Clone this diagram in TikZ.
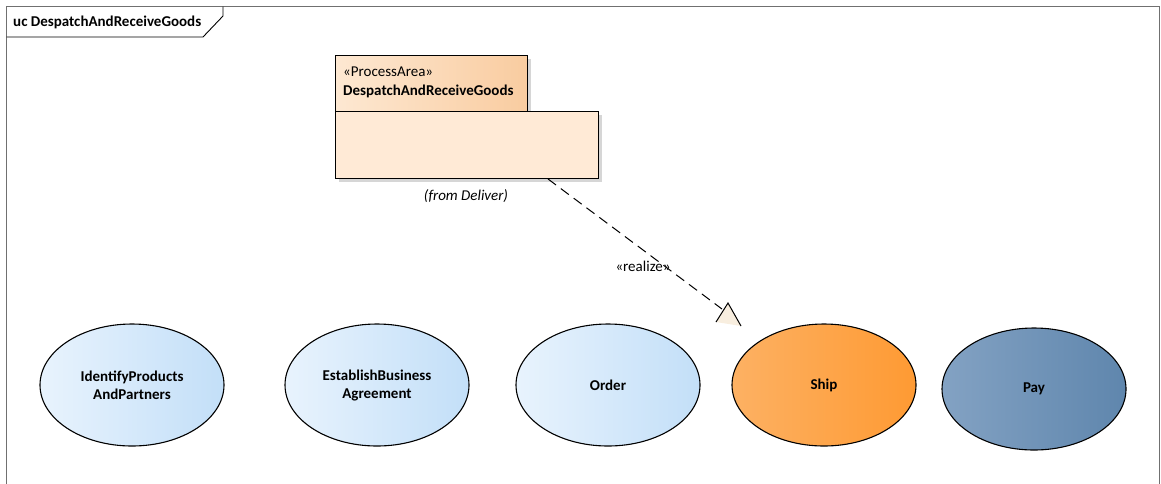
\documentclass[tikz,border=0pt]{standalone}
\usepackage{fontspec}
\setmainfont{Carlito}
\usetikzlibrary{shapes.geometric}
\definecolor{framecol}{HTML}{707070}
\definecolor{pkgtabL}{HTML}{FDE8D2}
\definecolor{pkgtabR}{HTML}{F9CCA0}
\definecolor{pkgbody}{HTML}{FFEAD6}
\definecolor{shadowcol}{HTML}{D6D6D6}
\definecolor{blueL}{HTML}{E8F3FD}
\definecolor{blueR}{HTML}{C3DFF8}
\definecolor{shipL}{HTML}{FDB163}
\definecolor{shipR}{HTML}{FE9A33}
\definecolor{payL}{HTML}{83A2C3}
\definecolor{payR}{HTML}{5F86AD}
\definecolor{cream}{HTML}{F8EEDF}
\tikzset{
  uc/.style={ellipse, draw=black, line width=1.1pt, inner sep=0pt,
    minimum width=184pt, minimum height=122pt, align=center,
    font=\fontsize{15}{18}\selectfont\bfseries},
  bluecase/.style={uc, left color=blueL, right color=blueR},
  shipcase/.style={uc, left color=shipL, right color=shipR},
  paycase/.style={uc, left color=payL, right color=payR},
  pkgshadow/.style={fill=shadowcol, draw=none},
  realline/.style={dashed, dash pattern=on 10pt off 6pt, line width=1pt},
  txt/.style={inner sep=0pt, font=\fontsize{15}{18}\selectfont}
}
\begin{document}
\begin{tikzpicture}[x=1pt,y=-1pt]
\useasboundingbox (0,0) rectangle (1161,483);
% frame
\draw[framecol, line width=1pt] (6.5,490) -- (6.5,6.5) -- (1159.5,6.5) -- (1159.5,490);
\draw[black, line width=0.9pt] (6.5,37) -- (203,37) -- (223,16) -- (223,6.5);
\node[txt, font=\fontsize{15}{18}\selectfont\bfseries, anchor=west] (title) at (13,22) {uc DespatchAndReceiveGoods};
% package
\fill[pkgshadow] (339,59) rectangle (531,115);
\fill[pkgshadow] (339,115) rectangle (602,182);
\node[draw=black, line width=1pt, left color=pkgtabL, right color=pkgtabR, minimum width=192pt, minimum height=56pt, inner sep=0pt, anchor=north west] (pkgtab) at (335,55) {};
\node[draw=black, line width=1pt, fill=pkgbody, minimum width=263pt, minimum height=67pt, inner sep=0pt, anchor=north west] (pkgbox) at (335,111) {};
\node[txt, anchor=west] (stereo) at (343,72) {«ProcessArea»};
\node[txt, anchor=west, font=\fontsize{15}{18}\selectfont\bfseries] (pkgname) at (343,91) {DespatchAndReceiveGoods};
\node[txt, font=\fontsize{15}{18}\selectfont\itshape] (from) at (466,196) {(from Deliver)};
% use cases
\node[bluecase] (idp) at (132,385) {IdentifyProducts\\AndPartners};
\node[bluecase] (eba) at (377,385) {EstablishBusiness\\Agreement};
\node[bluecase] (order) at (608,385) {Order};
\node[shipcase] (ship) at (824,385) {Ship};
\node[paycase] (pay) at (1034,389) {Pay};
% realization
\coordinate (rs) at (548,179);
\coordinate (re) at (722,309);
\draw[realline] (rs) -- (re);
\fill[cream] (716,322) -- (728,303) -- (741,326) -- cycle;
\draw[line width=1pt] (716,322) -- (728,303) -- (741,326);
\node[txt] (rlabel) at (643,266) {«realize»};
\end{tikzpicture}
\end{document}
